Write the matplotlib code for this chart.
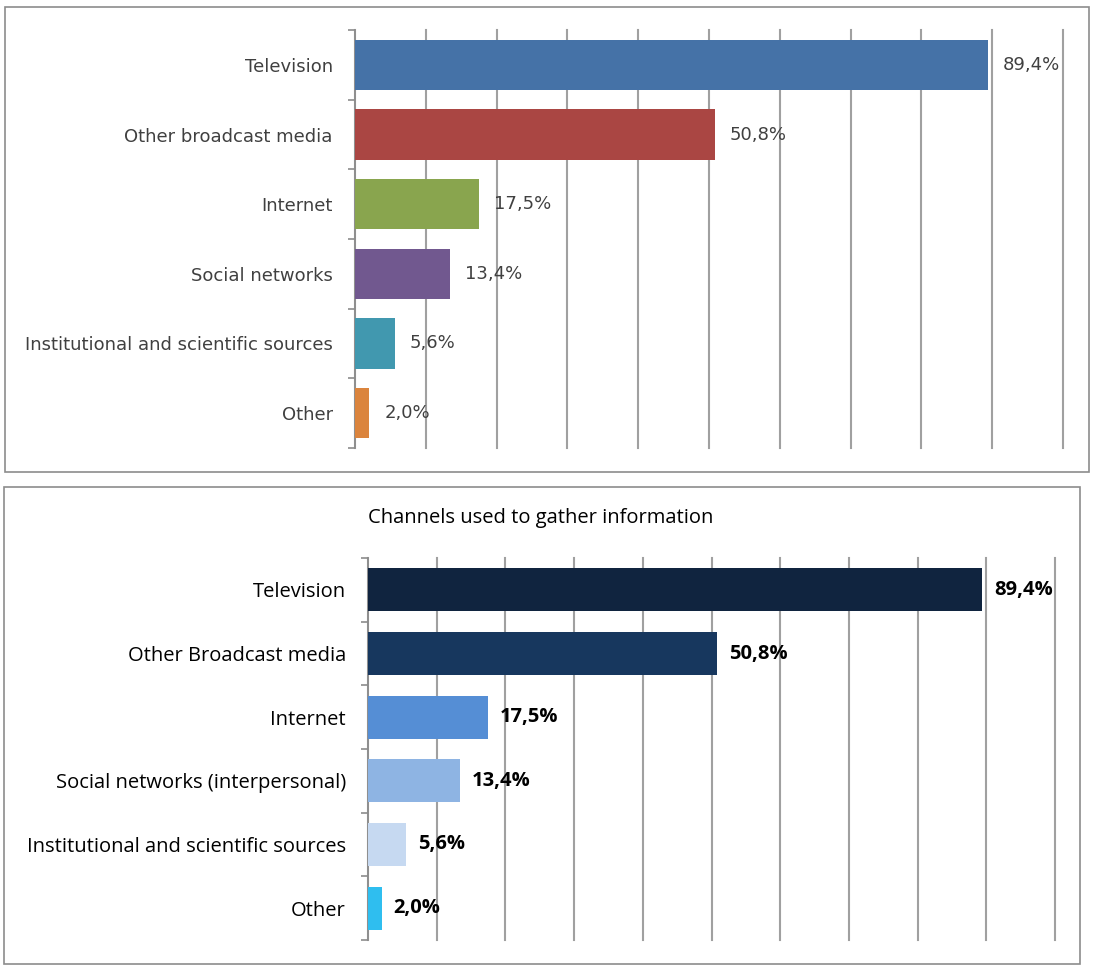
import matplotlib.pyplot as plt
from matplotlib.patches import Rectangle

# dados
canais_top = ['Television', 'Other broadcast media', 'Internet', 'Social networks',
              'Institutional and scientific sources', 'Other']
canais_bottom = ['Television', 'Other Broadcast media', 'Internet',
                 'Social networks (interpersonal)', 'Institutional and scientific sources', 'Other']
valores = [89.4, 50.8, 17.5, 13.4, 5.6, 2.0]
rotulos = ['89,4%', '50,8%', '17,5%', '13,4%', '5,6%', '2,0%']
cores_top = ['#4572A7', '#AA4643', '#89A54E', '#71588F', '#4198AF', '#DB843D']
cores_bottom = ['#10243F', '#17375E', '#558ED5', '#8EB4E3', '#C6D9F1', '#2FBEEF']
titulo_bottom = 'Channels used to gather information'

W, H = 1093, 967
fig = plt.figure(figsize=(W / 100, H / 100), dpi=100)


def caixa(x0, y0, x1, y1):
    fig.patches.append(Rectangle((x0 / W, 1 - y1 / H), (x1 - x0) / W, (y1 - y0) / H,
                                 transform=fig.transFigure, fill=False,
                                 edgecolor='#8c8c8c', linewidth=1.2))


def eixo(x0, y0, x1, y1):
    return fig.add_axes([x0 / W, 1 - y1 / H, (x1 - x0) / W, (y1 - y0) / H])


def desenhar(ax, canais, cores, altura, fonte, tam, cor_txt, peso, dx, pad):
    y = range(len(canais))
    ax.barh(y, valores, height=altura, color=cores, zorder=3)
    ax.set_xlim(0, 100)
    ax.set_ylim(len(canais) - 0.5, -0.5)
    ax.set_xticks(range(0, 101, 10))
    ax.set_xticklabels([])
    ax.tick_params(axis='x', length=0)
    ax.grid(axis='x', color='#a0a0a0', linewidth=1.5, zorder=0)
    for g in ax.get_xgridlines():
        g.set_clip_on(False)
    ax.set_yticks(list(y))
    ax.set_yticklabels(canais, fontfamily=fonte, fontsize=tam, color=cor_txt)
    ax.tick_params(axis='y', which='major', length=0, pad=pad)
    ax.set_yticks([i - 0.5 for i in range(len(canais) + 1)], minor=True)
    ax.tick_params(axis='y', which='minor', length=5, color='#8c8c8c', width=1.2)
    for s in ['top', 'right', 'bottom']:
        ax.spines[s].set_visible(False)
    ax.spines['left'].set_color('#8c8c8c')
    ax.spines['left'].set_linewidth(1.2)
    for i, v in enumerate(valores):
        ax.annotate(rotulos[i], (v, i), xytext=(dx, 0), textcoords='offset pixels',
                    va='center', ha='left', fontfamily=fonte, fontsize=tam,
                    color=cor_txt, fontweight=peso, zorder=4)


# painel de cima
caixa(5, 7, 1089, 472)
ax1 = eixo(355, 30, 1063, 448)
desenhar(ax1, canais_top, cores_top, 0.72, 'DejaVu Sans', 13, '#404040', 'normal', 15, 16)

# painel de baixo
caixa(4, 487, 1080, 964)
ax2 = eixo(368, 558, 1055, 940)
desenhar(ax2, canais_bottom, cores_bottom, 0.68, 'Open Sans', 14.5, 'black', 'bold', 12, 16)
fig.text(541 / W, 1 - 518 / H, titulo_bottom, ha='center', va='center',
         fontfamily='Open Sans', fontsize=14.5, color='black')

fig.savefig('out.png', dpi=100)
